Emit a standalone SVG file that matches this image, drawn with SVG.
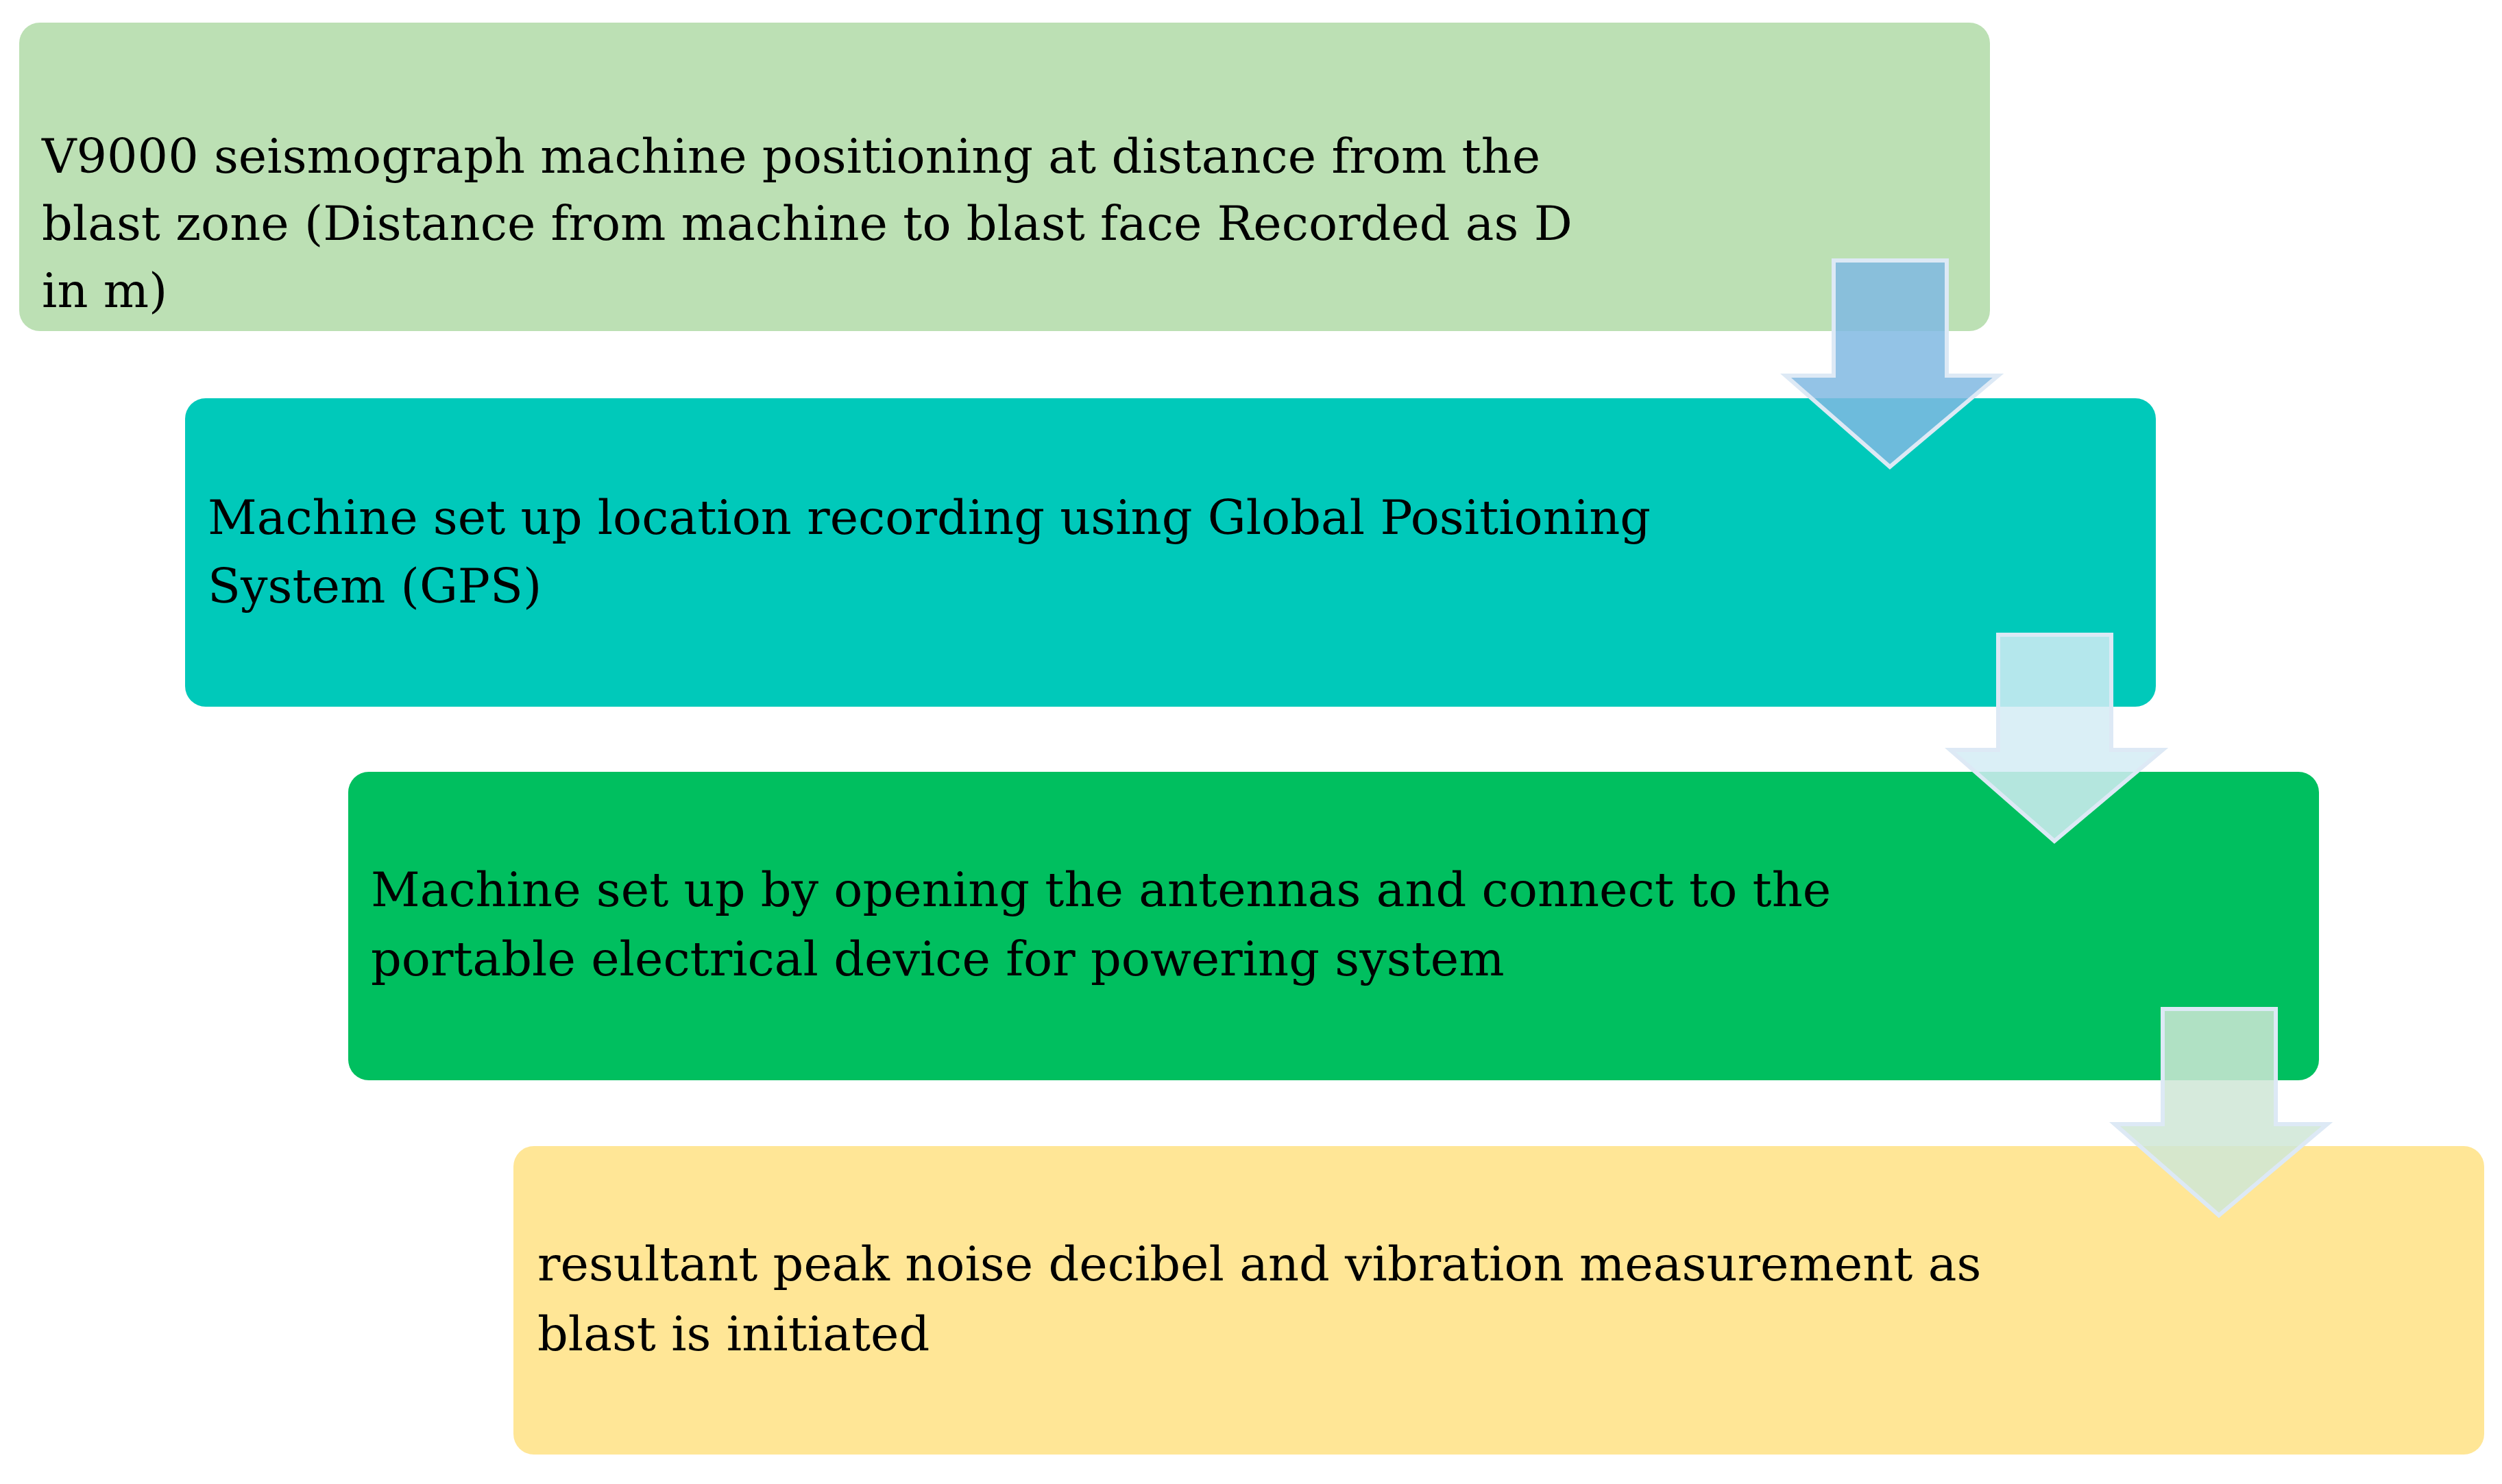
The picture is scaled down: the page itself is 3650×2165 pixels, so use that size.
<svg xmlns="http://www.w3.org/2000/svg" width="3650" height="2165" viewBox="0 0 3650 2165">
<style>
.t{font-family:"DejaVu Serif","Liberation Serif",serif;font-size:70px;fill:#000}
.ar{stroke:#dde9f5;stroke-width:6;stroke-linejoin:miter}
</style>
<defs>
<path id="arr" d="M0,0 H165 V168 H240 L82,301 L-70,168 H0 Z"/>
</defs>
<rect width="3650" height="2165" fill="#fff"/>
<g id="n1"><rect x="28" y="33" width="2875" height="450" rx="30" fill="#bce0b4"/>
<text class="t" x="61" y="252">V9000 seismograph machine positioning at distance from the</text>
<text class="t" x="61" y="350">blast zone (Distance from machine to blast face Recorded as D</text>
<text class="t" x="61" y="448">in m)</text></g>
<g id="n2"><rect x="270" y="581" width="2875" height="450" rx="30" fill="#00c9ba"/>
<text class="t" x="303" y="779">Machine set up location recording using Global Positioning</text>
<text class="t" x="303" y="879">System (GPS)</text></g>
<g id="n3"><rect x="508" y="1126" width="2875" height="450" rx="30" fill="#00bf5f"/>
<text class="t" x="541" y="1322">Machine set up by opening the antennas and connect to the</text>
<text class="t" x="541" y="1423">portable electrical device for powering system</text></g>
<g id="n4"><rect x="749" y="1672" width="2875" height="450" rx="30" fill="#ffe696"/>
<text class="t" x="784" y="1868">resultant peak noise decibel and vibration measurement as</text>
<text class="t" x="784" y="1970">blast is initiated</text></g>
<g id="connectors">
<use href="#arr" x="2675" y="380" class="ar" fill="#80b8e2" fill-opacity="0.85"/>
<use href="#arr" x="2915" y="926" class="ar" fill="#d4ecf4" fill-opacity="0.85"/>
<use href="#arr" x="3155" y="1472" class="ar" fill="#cfe6d6" fill-opacity="0.85"/>
</g>
</svg>
